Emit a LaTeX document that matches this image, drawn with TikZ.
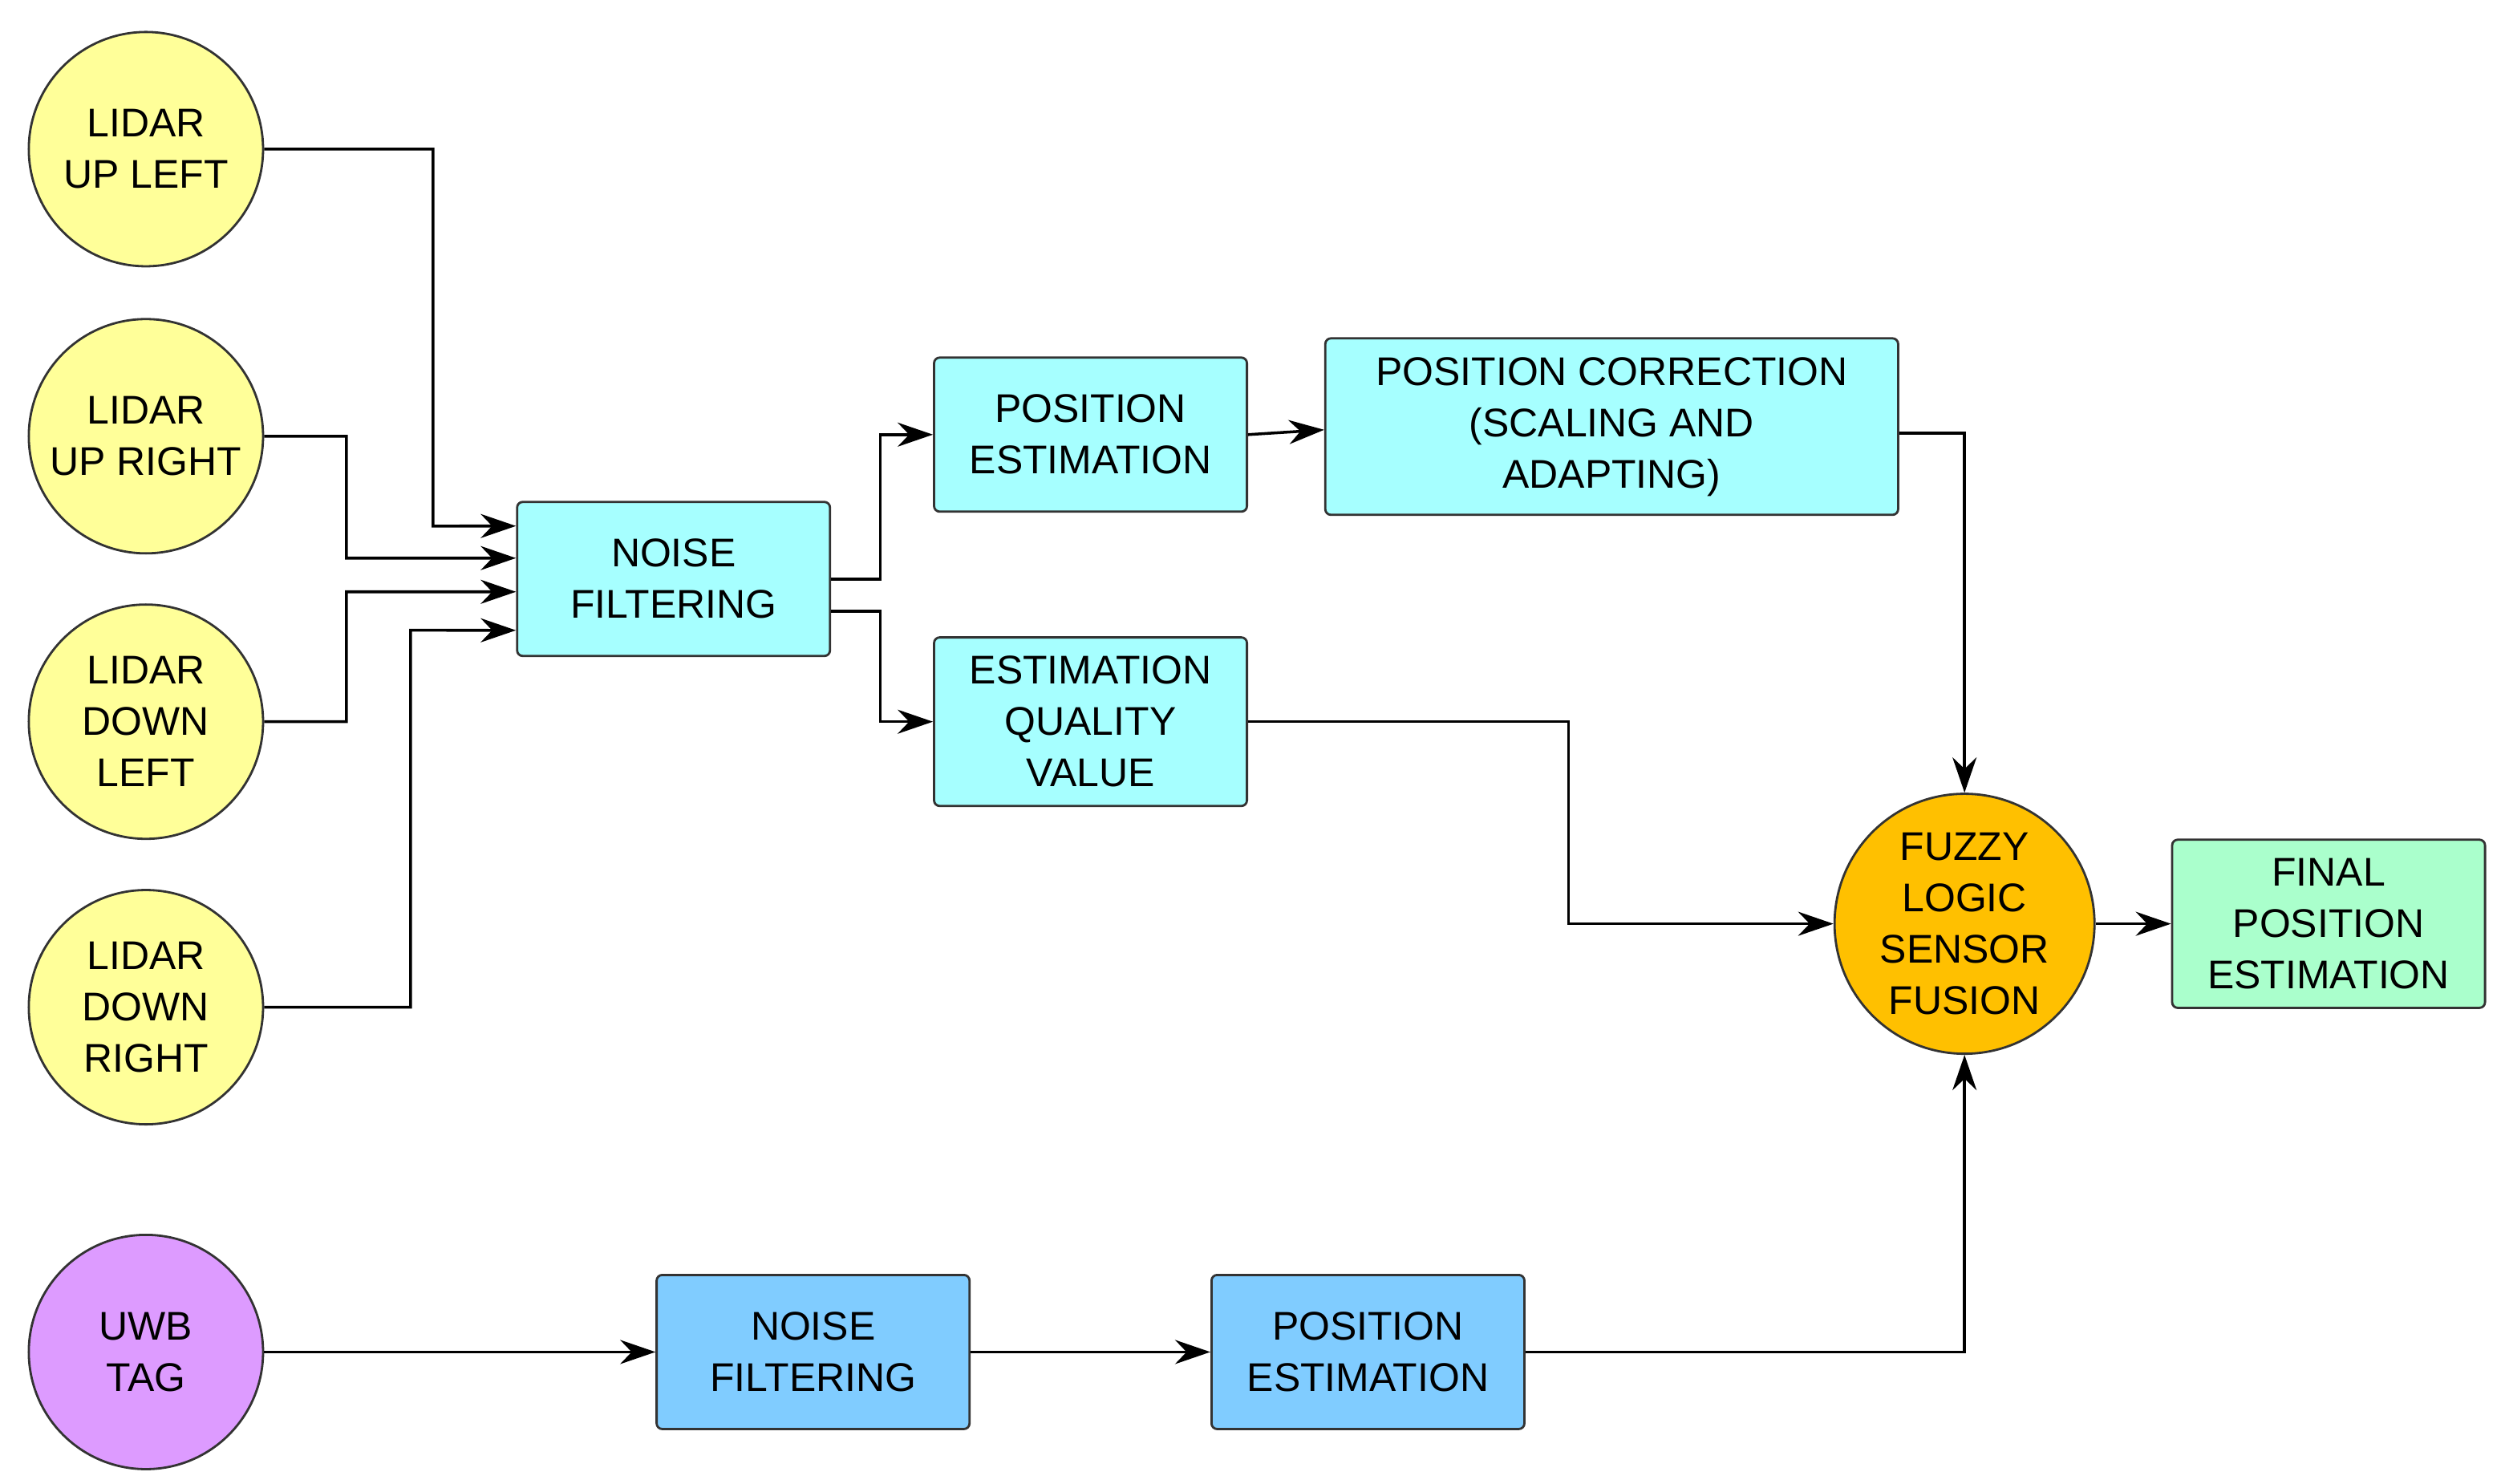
\documentclass[tikz,border=0pt]{standalone}
\usepackage{fontspec}
\setmainfont{Liberation Sans}
\usetikzlibrary{arrows.meta,calc}
\definecolor{lidar}{HTML}{FFFF99}
\definecolor{proc}{HTML}{A6FFFF}
\definecolor{uwbproc}{HTML}{80CCFF}
\definecolor{uwbtag}{HTML}{DD9BFF}
\definecolor{fuzzy}{HTML}{FFC000}
\definecolor{final}{HTML}{AAFFCC}
\tikzset{
  sensor/.style={circle, draw=black!80, fill=lidar, minimum size=1.46cm, inner sep=0pt, align=center, font=\fontsize{7.1}{9.1}\selectfont},
  block/.style={rectangle, rounded corners=1pt, draw=black!80, fill=proc, minimum width=1.95cm, minimum height=0.96cm, align=center, font=\fontsize{7.1}{9.1}\selectfont},
  link/.style={-{Stealth[length=2.2mm,width=1.5mm]}, black, line width=0.5pt}
}
\begin{document}
\begin{tikzpicture}[x=0.01cm,y=-0.01cm]
\useasboundingbox (0,0) rectangle (1562,925);
% sensors
\node[sensor] (ul) at (91,93) {LIDAR\\UP LEFT};
\node[sensor] (ur) at (91,272) {LIDAR\\UP RIGHT};
\node[sensor] (dl) at (91,450) {LIDAR\\DOWN\\LEFT};
\node[sensor] (dr) at (91,628) {LIDAR\\DOWN\\RIGHT};
\node[sensor, fill=uwbtag] (uwb) at (91,843) {UWB\\TAG};
% lidar chain
\node[block] (nf) at (420,361) {NOISE\\FILTERING};
\node[block] (pe) at (680,271) {POSITION\\ESTIMATION};
\node[block, minimum width=3.57cm] (pc) at (1005,266) {POSITION CORRECTION\\(SCALING AND\\ADAPTING)};
\node[block] (eq) at (680,450) {ESTIMATION\\QUALITY\\VALUE};
\node[sensor, fill=fuzzy, minimum size=1.62cm] (fz) at (1225,576) {FUZZY\\LOGIC\\SENSOR\\FUSION};
\node[block, fill=final] (fin) at (1452,576) {FINAL\\POSITION\\ESTIMATION};
% uwb chain
\node[block, fill=uwbproc] (unf) at (507,843) {NOISE\\FILTERING};
\node[block, fill=uwbproc] (upe) at (853,843) {POSITION\\ESTIMATION};

\draw[link] (ul.east) -| (270,328) -- ([yshift=0.33cm]nf.west);
\draw[link] (ur.east) -| (216,348) -- ([yshift=0.13cm]nf.west);
\draw[link] (dl.east) -| (216,369) -- ([yshift=-0.08cm]nf.west);
\draw[link] (dr.east) -| (256,393) -- ([yshift=-0.32cm]nf.west);
\draw[link] (nf.east) -| (549,271) -- (pe.west);
\draw[link] ([yshift=-0.2cm]nf.east) -| (549,450) -- (eq.west);
\draw[link] (pe.east) -- ([yshift=-0.02cm]pc.west);
\draw[link] ([yshift=-0.04cm]pc.east) -| (fz.north);
\draw[link] (eq.east) -| (978,576) -- (fz.west);
\draw[link] (fz.east) -- (fin.west);
\draw[link] (uwb.east) -- (unf.west);
\draw[link] (unf.east) -- (upe.west);
\draw[link] (upe.east) -| (fz.south);
\end{tikzpicture}
\end{document}
